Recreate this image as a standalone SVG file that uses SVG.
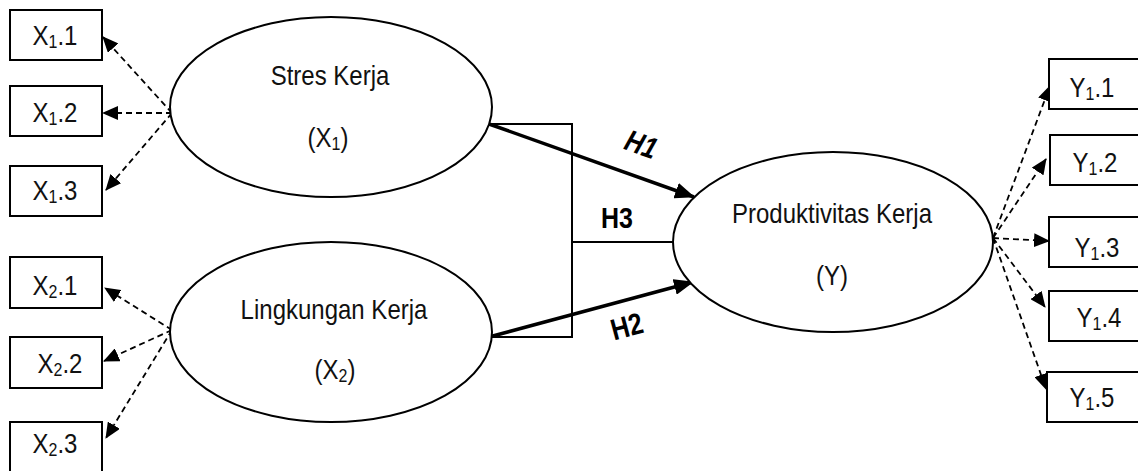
<svg xmlns="http://www.w3.org/2000/svg" width="1138" height="471" viewBox="0 0 1138 471">
  <style>
    .box { fill: #fff; stroke: #000; stroke-width: 2; }
    .lat { fill: #fff; stroke: #000; stroke-width: 2; }
    .lbl { font-family: "Liberation Sans", Arial, sans-serif; font-size: 24px; fill: #111; text-anchor: middle; }
    .sub { font-size: 16px; }
    .hyp { font-family: "Liberation Sans", Arial, sans-serif; font-size: 25px; font-weight: bold; fill: #000; text-anchor: middle; }
    .dash { fill: none; stroke: #000; stroke-width: 1.8; stroke-dasharray: 6 4; marker-end: url(#headS); }
    .thick { fill: none; stroke: #000; stroke-width: 3.5; marker-end: url(#headL); }
    .thin { fill: none; stroke: #000; stroke-width: 2; }
  </style>
  <defs>
    <marker id="headS" markerUnits="userSpaceOnUse" markerWidth="16" markerHeight="14" refX="15" refY="7" orient="auto">
      <path d="M0,0 L16,7 L0,14 z" fill="#000"/>
    </marker>
    <marker id="headL" markerUnits="userSpaceOnUse" markerWidth="20" markerHeight="16" refX="19" refY="8" orient="auto">
      <path d="M0,0 L20,8 L0,16 z" fill="#000"/>
    </marker>
  </defs>
  <rect width="1138" height="471" fill="#fff"/>

  <!-- connectors -->
  <g id="connectors">
    <!-- indicators of X1 -->
    <path class="dash" d="M172,113 L103,37"/>
    <path class="dash" d="M172,113 L103,113"/>
    <path class="dash" d="M172,113 L106,190"/>
    <!-- indicators of X2 -->
    <path class="dash" d="M172,330 L105,288"/>
    <path class="dash" d="M172,330 L104,361"/>
    <path class="dash" d="M172,330 L106,438"/>
    <!-- indicators of Y -->
    <path class="dash" d="M993,238 L1050,86"/>
    <path class="dash" d="M993,238 L1046,159"/>
    <path class="dash" d="M993,238 L1049,241"/>
    <path class="dash" d="M993,238 L1045,307"/>
    <path class="dash" d="M993,238 L1046,389"/>
    <!-- joint effect bracket -->
    <path class="thin" d="M489,124 L572,124 L572,337 L489,337"/>
    <path class="thin" d="M572,242 L675,242"/>
    <!-- direct paths -->
    <path class="thick" d="M489,124 L694,197"/>
    <path class="thick" d="M489,337 L693,282"/>
    <!-- hypothesis labels (drawn slightly tall) -->
    <text class="hyp" font-style="italic" transform="translate(641 145) rotate(20) scale(1 1.2)" y="8">H1</text>
    <text class="hyp" transform="translate(617 228) scale(1 1.2)">H3</text>
    <text class="hyp" transform="translate(627 327) rotate(-15) scale(1 1.2)" y="8">H2</text>
  </g>

  <!-- latent variables -->
  <g id="stres-kerja">
    <ellipse class="lat" cx="331" cy="107" rx="161" ry="90"/>
    <text class="lbl" transform="translate(330 85) scale(1 1.15)">Stres Kerja</text>
    <text class="lbl" transform="translate(328 147) scale(1 1.15)">(X<tspan class="sub" dy="3">1</tspan><tspan dy="-3">)</tspan></text>
  </g>
  <g id="lingkungan-kerja">
    <ellipse class="lat" cx="331" cy="332" rx="161" ry="90"/>
    <text class="lbl" transform="translate(334 319) scale(1 1.15)">Lingkungan Kerja</text>
    <text class="lbl" transform="translate(335 379) scale(1 1.15)">(X<tspan class="sub" dy="3">2</tspan><tspan dy="-3">)</tspan></text>
  </g>
  <g id="produktivitas-kerja">
    <ellipse class="lat" cx="833" cy="242" rx="160" ry="90"/>
    <text class="lbl" transform="translate(832 223) scale(1 1.15)">Produktivitas Kerja</text>
    <text class="lbl" transform="translate(832 285) scale(1 1.15)">(Y)</text>
  </g>

  <!-- indicators -->
  <g id="x1-1"><rect class="box" x="10" y="10" width="92" height="50"/>
    <text class="lbl" transform="translate(55 45) scale(1 1.15)">X<tspan class="sub" dy="3">1</tspan><tspan dy="-3">.1</tspan></text></g>
  <g id="x1-2"><rect class="box" x="10" y="86" width="92" height="50"/>
    <text class="lbl" transform="translate(55 122) scale(1 1.15)">X<tspan class="sub" dy="3">1</tspan><tspan dy="-3">.2</tspan></text></g>
  <g id="x1-3"><rect class="box" x="10" y="166" width="92" height="50"/>
    <text class="lbl" transform="translate(55 200) scale(1 1.15)">X<tspan class="sub" dy="3">1</tspan><tspan dy="-3">.3</tspan></text></g>

  <g id="x2-1"><rect class="box" x="10" y="257" width="92" height="51"/>
    <text class="lbl" transform="translate(55 295) scale(1 1.15)">X<tspan class="sub" dy="3">2</tspan><tspan dy="-3">.1</tspan></text></g>
  <g id="x2-2"><rect class="box" x="10" y="337" width="92" height="51"/>
    <text class="lbl" transform="translate(60 373) scale(1 1.15)">X<tspan class="sub" dy="3">2</tspan><tspan dy="-3">.2</tspan></text></g>
  <g id="x2-3"><rect class="box" x="10" y="422" width="92" height="51"/>
    <text class="lbl" transform="translate(55 453) scale(1 1.15)">X<tspan class="sub" dy="3">2</tspan><tspan dy="-3">.3</tspan></text></g>

  <g id="y1-1"><rect class="box" x="1049" y="59" width="92" height="50"/>
    <text class="lbl" transform="translate(1092 97) scale(1 1.15)">Y<tspan class="sub" dy="3">1</tspan><tspan dy="-3">.1</tspan></text></g>
  <g id="y1-2"><rect class="box" x="1050" y="135" width="92" height="50"/>
    <text class="lbl" transform="translate(1095 172) scale(1 1.15)">Y<tspan class="sub" dy="3">1</tspan><tspan dy="-3">.2</tspan></text></g>
  <g id="y1-3"><rect class="box" x="1049" y="217" width="92" height="50"/>
    <text class="lbl" transform="translate(1097 257) scale(1 1.15)">Y<tspan class="sub" dy="3">1</tspan><tspan dy="-3">.3</tspan></text></g>
  <g id="y1-4"><rect class="box" x="1049" y="291" width="92" height="50"/>
    <text class="lbl" transform="translate(1099 327) scale(1 1.15)">Y<tspan class="sub" dy="3">1</tspan><tspan dy="-3">.4</tspan></text></g>
  <g id="y1-5"><rect class="box" x="1047" y="372" width="92" height="50"/>
    <text class="lbl" transform="translate(1092 407) scale(1 1.15)">Y<tspan class="sub" dy="3">1</tspan><tspan dy="-3">.5</tspan></text></g>
</svg>
